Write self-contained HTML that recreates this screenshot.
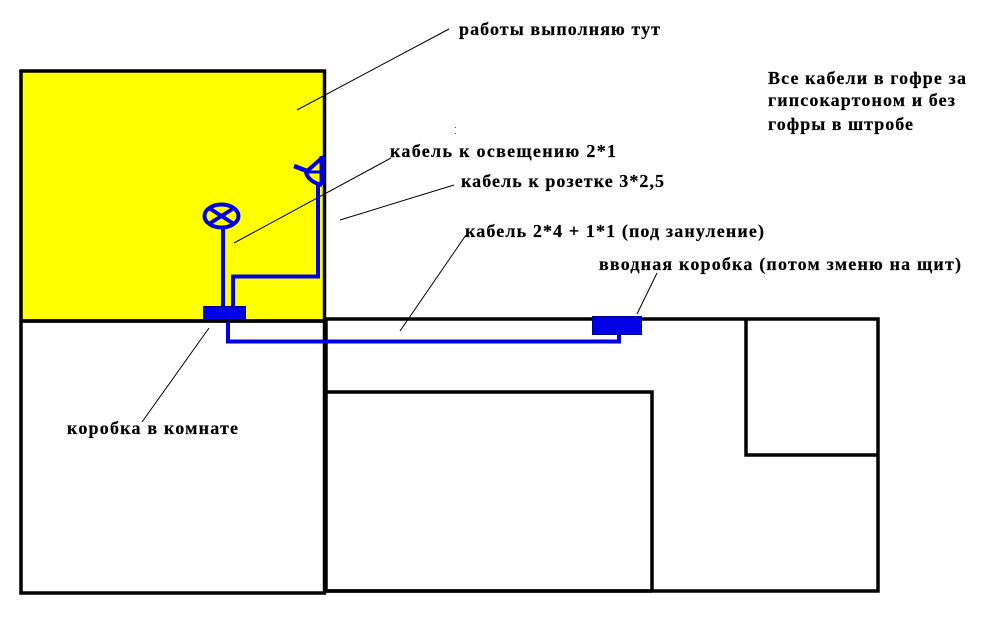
<!DOCTYPE html>
<html lang="ru">
<head>
<meta charset="utf-8">
<title>Схема</title>
<style>
html,body{margin:0;padding:0;background:#fff;width:992px;height:623px;overflow:hidden}
svg{display:block}
text{font-family:"Liberation Serif","Noto Serif CJK SC",serif;font-weight:bold;font-size:18px;fill:#000;stroke:#000;stroke-width:.2px}
</style>
</head>
<body>
<svg width="992" height="623" viewBox="0 0 992 623" xmlns="http://www.w3.org/2000/svg">
<rect width="992" height="623" fill="#fff"/>
<rect x="21" y="71" width="303" height="250" fill="#ffff00"/>

<g fill="none" stroke="#000" stroke-width="3.5">
<rect x="21" y="71" width="303.5" height="522"/>
<path d="M21 321H324.5"/>
<path d="M326 319H878V591H326"/>
<path d="M326 319V591"/>
<path d="M326 392H652V592"/>
<path d="M326 591H652"/>
<path d="M746 319V455H878"/>
</g>

<g fill="none" stroke="#000" stroke-width="1">
<path d="M297 110L449 29"/>
<path d="M234 243L391 158"/>
<path d="M340 220L454 185"/>
<path d="M400 331L466 235"/>
<path d="M637 314L657 273"/>
<path d="M142 422L209 328"/>
</g>
<rect x="455" y="127" width="1" height="1" fill="#555"/>
<rect x="455" y="133" width="1" height="1" fill="#555"/>

<g fill="none" stroke="#0000e6" stroke-width="4">
<ellipse cx="221.500" cy="216" rx="17" ry="11.500"/>
<path d="M209 208L234 224M234 208L209 224" stroke-width="4"/>
<path d="M223 227V307"/>
<path d="M233 307V276.500H318V183"/>
<path d="M322 156V185" stroke-width="5"/>
<path d="M323 157L306 172C307 178 313 183 322 185"/>
<path d="M306 172H322" stroke-width="3"/>
<path d="M294 166L307 171" stroke-width="4.500"/>
<path d="M228 321V341.500H619V333"/>
</g>

<rect x="203.500" y="306.500" width="42" height="14" fill="#0000e6" stroke="#00008c" stroke-width="1"/>
<rect x="592.500" y="316.500" width="49" height="18" fill="#0000e6" stroke="#00008c" stroke-width="1"/>
<path d="M21 321H324" stroke="#000" stroke-width="3.500" fill="none"/>
<path d="M228 322V341" stroke="#0000e6" stroke-width="4" fill="none"/>

<text x="459" y="35" textLength="201" lengthAdjust="spacing">работы выполняю тут</text>
<text x="390" y="157" textLength="226" lengthAdjust="spacing">кабель к освещению 2*1</text>
<text x="461" y="187" textLength="203" lengthAdjust="spacing">кабель к розетке 3*2,5</text>
<text x="465" y="237" textLength="299" lengthAdjust="spacing">кабель 2*4 + 1*1 (под зануление)</text>
<text x="599" y="270" textLength="362" lengthAdjust="spacing">вводная коробка (потом зменю на щит)</text>
<text x="67" y="434" textLength="171" lengthAdjust="spacing">коробка в комнате</text>
<text x="768" y="84" textLength="198" lengthAdjust="spacing">Все кабели в гофре за</text>
<text x="768" y="106" textLength="187" lengthAdjust="spacing">гипсокартоном и без</text>
<text x="768" y="130" textLength="145" lengthAdjust="spacing">гофры в штробе</text>
</svg>
</body>
</html>
